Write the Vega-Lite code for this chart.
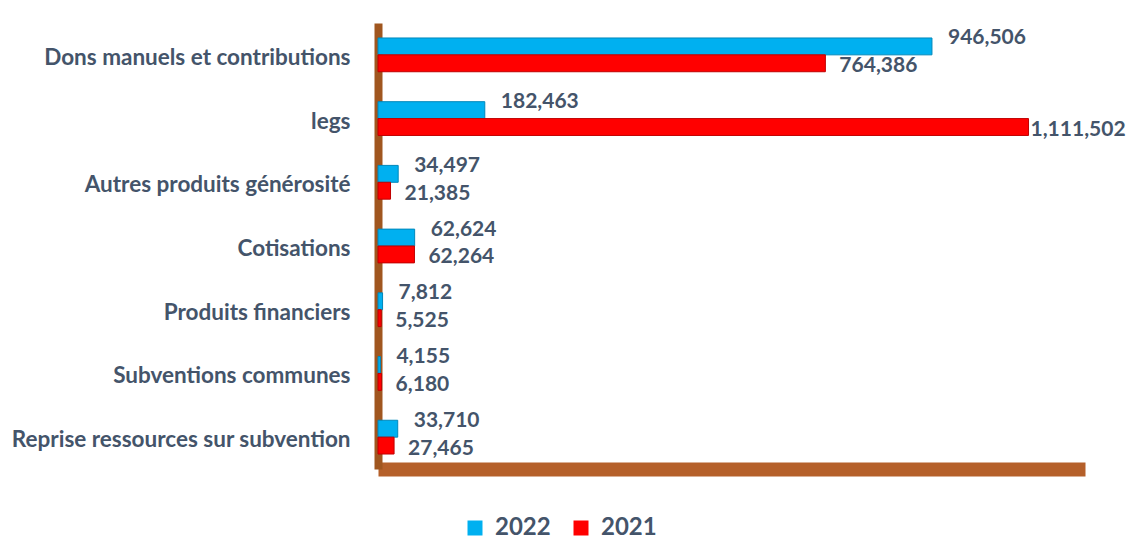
{
  "$schema": "https://vega.github.io/schema/vega-lite/v6.json",
  "autosize": "none",
  "width": 707,
  "height": 446,
  "padding": {"left": 378, "top": 23, "right": 41, "bottom": 74},
  "background": "white",
  "config": {"view": {"stroke": null}, "font": "Lato"},
  "data": {
    "values": [
      {"cat": "Dons manuels et contributions", "year": "2022", "value": 946506},
      {"cat": "Dons manuels et contributions", "year": "2021", "value": 764386},
      {"cat": "legs", "year": "2022", "value": 182463},
      {"cat": "legs", "year": "2021", "value": 1111502},
      {"cat": "Autres produits générosité", "year": "2022", "value": 34497},
      {"cat": "Autres produits générosité", "year": "2021", "value": 21385},
      {"cat": "Cotisations", "year": "2022", "value": 62624},
      {"cat": "Cotisations", "year": "2021", "value": 62264},
      {"cat": "Produits financiers", "year": "2022", "value": 7812},
      {"cat": "Produits financiers", "year": "2021", "value": 5525},
      {"cat": "Subventions communes", "year": "2022", "value": 4155},
      {"cat": "Subventions communes", "year": "2021", "value": 6180},
      {"cat": "Reprise ressources sur subvention", "year": "2022", "value": 33710},
      {"cat": "Reprise ressources sur subvention", "year": "2021", "value": 27465}
    ]
  },
  "encoding": {
    "y": {
      "field": "cat", "type": "nominal", "sort": null, "title": null,
      "scale": {"paddingInner": 0.47, "paddingOuter": 0.235},
      "axis": {
        "ticks": false, "labelPadding": 28, "labelFontSize": 22.5, "labelFontWeight": "bold",
        "labelColor": "#44546A", "domainColor": "#A0561F", "domainWidth": 8, "labelLimit": 400,
        "labelOffset": 3
      }
    },
    "yOffset": {"field": "year", "type": "nominal", "sort": ["2022", "2021"], "scale": {"paddingInner": 0, "paddingOuter": 0}},
    "x": {
      "field": "value", "type": "quantitative", "title": null,
      "scale": {"domain": [0, 1208000], "nice": false},
      "axis": {"ticks": false, "labels": false, "grid": false, "domainColor": "#B5602A", "domainWidth": 14}
    }
  },
  "layer": [
    {
      "mark": {"type": "bar", "strokeWidth": 1},
      "encoding": {
        "color": {
          "field": "year", "type": "nominal",
          "scale": {"domain": ["2022", "2021"], "range": ["#00B0F0", "#FF0000"]},
          "legend": {
            "title": null, "orient": "none", "direction": "horizontal",
            "legendX": 85, "legendY": 493, "symbolType": "square", "symbolSize": 225,
            "symbolStrokeWidth": 0, "labelFontSize": 24, "labelFontWeight": "bold",
            "labelColor": "#44546A", "columnPadding": 18, "labelOffset": 8
          }
        },
        "stroke": {
          "field": "year", "type": "nominal",
          "scale": {"domain": ["2022", "2021"], "range": ["#0088BB", "#C00000"]},
          "legend": null
        }
      }
    },
    {
      "transform": [{"filter": "datum.year == '2022'"}],
      "mark": {"type": "text", "align": "left", "baseline": "middle", "dx": 16, "dy": -8, "fontSize": 21, "fontWeight": "bold", "color": "#44546A"},
      "encoding": {
        "text": {"field": "value", "type": "quantitative", "format": ",d"}
      }
    },
    {
      "transform": [{"filter": "datum.year == '2021' && datum.value < 1000000"}],
      "mark": {"type": "text", "align": "left", "baseline": "middle", "dx": 14, "dy": 3, "fontSize": 21, "fontWeight": "bold", "color": "#44546A"},
      "encoding": {
        "text": {"field": "value", "type": "quantitative", "format": ",d"}
      }
    },
    {
      "transform": [{"filter": "datum.year == '2021' && datum.value >= 1000000"}],
      "mark": {"type": "text", "align": "left", "baseline": "middle", "dx": 2, "dy": 3, "fontSize": 21, "fontWeight": "bold", "color": "#44546A"},
      "encoding": {
        "text": {"field": "value", "type": "quantitative", "format": ",d"}
      }
    }
  ]
}
